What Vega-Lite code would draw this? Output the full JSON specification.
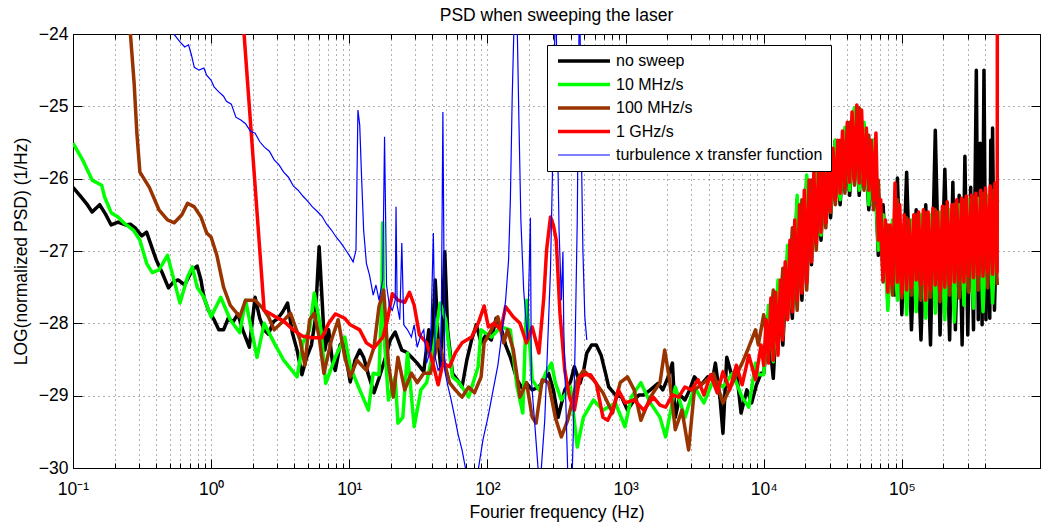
{
"$schema":"https://vega.github.io/schema/vega-lite/v6.json",
"width":967,"height":434,
"autosize":{"type":"none"},
"padding":{"left":73,"top":34,"right":1,"bottom":59},
"background":"white",
"title":{"text":"PSD when sweeping the laser","font":"Liberation Sans","fontSize":17.5,"fontWeight":"normal","color":"black","offset":-13,"baseline":"alphabetic","anchor":"middle"},
"config":{"view":{"stroke":"black","strokeWidth":1},
"axis":{"labelFont":"Liberation Sans","labelFontSize":17.5,"labelColor":"black","titleFont":"Liberation Sans","titleFontSize":17.5,"titleFontWeight":"normal","titleColor":"black","domainColor":"black","tickColor":"black","gridColor":"#3a3a3a","gridDash":[1,4],"gridWidth":0.8,"labelOverlap":false,"labelFlush":false}},
"datasets":{
"k":[{"f":0.1,"y":-26.12},{"f":0.112,"y":-26.23},{"f":0.127,"y":-26.36},{"f":0.1375,"y":-26.46},{"f":0.156,"y":-26.36},{"f":0.172,"y":-26.49},{"f":0.189,"y":-26.64},{"f":0.2115,"y":-26.6},{"f":0.24,"y":-26.64},{"f":0.26,"y":-26.63},{"f":0.2815,"y":-26.68},{"f":0.315,"y":-26.79},{"f":0.341,"y":-26.74},{"f":0.369,"y":-26.93},{"f":0.4,"y":-27.12},{"f":0.44,"y":-27.29},{"f":0.491,"y":-27.51},{"f":0.532,"y":-27.43},{"f":0.576,"y":-27.4},{"f":0.644,"y":-27.47},{"f":0.731,"y":-27.26},{"f":0.792,"y":-27.21},{"f":0.844,"y":-27.4},{"f":0.886,"y":-27.64},{"f":0.957,"y":-27.82},{"f":1.05,"y":-27.95},{"f":1.136,"y":-28.09},{"f":1.23,"y":-28.09},{"f":1.33,"y":-27.93},{"f":1.443,"y":-27.98},{"f":1.563,"y":-27.87},{"f":1.692,"y":-28.09},{"f":1.89,"y":-28.33},{"f":2.08,"y":-27.64},{"f":2.25,"y":-27.93},{"f":2.42,"y":-28.09},{"f":2.6,"y":-28.15},{"f":2.815,"y":-27.98},{"f":3.048,"y":-27.93},{"f":3.3,"y":-27.84},{"f":3.574,"y":-27.72},{"f":3.87,"y":-28.13},{"f":4.19,"y":-28.37},{"f":4.537,"y":-28.71},{"f":4.913,"y":-28.47},{"f":5.32,"y":-28.3},{"f":5.67,"y":-27.95},{"f":6.05,"y":-26.94},{"f":6.34,"y":-27.64},{"f":6.65,"y":-28.37},{"f":7.09,"y":-28.09},{"f":7.55,"y":-28.53},{"f":7.918,"y":-28.65},{"f":8.574,"y":-28.3},{"f":9.284,"y":-28.23},{"f":9.77,"y":-28.62},{"f":10.16,"y":-28.81},{"f":11,"y":-28.51},{"f":11.9,"y":-28.37},{"f":12.7,"y":-28.47},{"f":13.75,"y":-28.71},{"f":15.1,"y":-28.96},{"f":16.4,"y":-28.76},{"f":18.3,"y":-28.47},{"f":19.8,"y":-28.23},{"f":21.5,"y":-28.12},{"f":24,"y":-28.37},{"f":26,"y":-28.4},{"f":28.6,"y":-28.48},{"f":31,"y":-28.55},{"f":34.6,"y":-28.67},{"f":37.6,"y":-28.09},{"f":39.3,"y":-28.44},{"f":41.9,"y":-27.4},{"f":44,"y":-28.23},{"f":46.1,"y":-28.65},{"f":49.1,"y":-27.01},{"f":51.5,"y":-28.09},{"f":55.8,"y":-28.69},{"f":60.5,"y":-28.78},{"f":65.5,"y":-28.88},{"f":70.9,"y":-28.51},{"f":76.8,"y":-28.23},{"f":83.1,"y":-28.02},{"f":90,"y":-28.27},{"f":97.7,"y":-28.16},{"f":106.6,"y":-28.23},{"f":115.5,"y":-27.93},{"f":125,"y":-28.05},{"f":135.4,"y":-28.3},{"f":146.6,"y":-28.47},{"f":163.8,"y":-28.78},{"f":177.4,"y":-28.89},{"f":192,"y":-28.83},{"f":211,"y":-28.92},{"f":236,"y":-28.88},{"f":256,"y":-28.78},{"f":277,"y":-28.69},{"f":300,"y":-28.92},{"f":325,"y":-29.3},{"f":363,"y":-28.92},{"f":399,"y":-28.81},{"f":426,"y":-28.6},{"f":468,"y":-28.83},{"f":495,"y":-28.67},{"f":524,"y":-28.41},{"f":567,"y":-28.3},{"f":614,"y":-28.3},{"f":665,"y":-28.44},{"f":720,"y":-28.71},{"f":755,"y":-28.88},{"f":844,"y":-28.99},{"f":936,"y":-29.02},{"f":1032,"y":-29.2},{"f":1154,"y":-29.06},{"f":1250,"y":-28.99},{"f":1354,"y":-28.99},{"f":1512,"y":-28.92},{"f":1719,"y":-28.83},{"f":1860,"y":-28.92},{"f":2015,"y":-28.76},{"f":2183,"y":-28.55},{"f":2290,"y":-29.3},{"f":2480,"y":-28.99},{"f":2690,"y":-29.06},{"f":2910,"y":-28.92},{"f":3150,"y":-28.74},{"f":3516,"y":-28.85},{"f":3930,"y":-28.74},{"f":4260,"y":-28.78},{"f":4470,"y":-28.55},{"f":4840,"y":-29.06},{"f":5070,"y":-29.52},{"f":5400,"y":-28.47},{"f":5850,"y":-28.71},{"f":6340,"y":-28.65},{"f":6860,"y":-29.24},{"f":7550,"y":-28.92},{"f":8180,"y":-29.1},{"f":8860,"y":-28.85},{"f":9570,"y":-28.69},{"f":10000,"y":-28.69},{"f":10830,"y":-28.09},{"f":11730,"y":-28.76},{"f":12700,"y":-27.54},{"f":13750,"y":-28.3},{"f":14890,"y":-27.06},{"f":16120,"y":-27.93},{"f":17460,"y":-26.29},{"f":18900,"y":-27.68},{"f":20470,"y":-26.02},{"f":22170,"y":-27.19},{"f":24000,"y":-25.63},{"f":25990,"y":-26.85},{"f":28150,"y":-25.6},{"f":30480,"y":-26.54},{"f":33000,"y":-25.47},{"f":35740,"y":-26.36},{"f":38700,"y":-25.33},{"f":41900,"y":-26.23},{"f":45370,"y":-25.05},{"f":49130,"y":-26.23},{"f":53200,"y":-25.26},{"f":57600,"y":-26.43},{"f":62370,"y":-25.47},{"f":67540,"y":-27.06},{"f":73130,"y":-26.36},{"f":79180,"y":-27.68},{"f":85740,"y":-26.85},{"f":89220,"y":-27.61},{"f":92840,"y":-25.99},{"f":100000,"y":-27.88},{"f":108300,"y":-25.91},{"f":117300,"y":-28.09},{"f":127000,"y":-26.43},{"f":137500,"y":-28.23},{"f":148900,"y":-26.36},{"f":161200,"y":-28.3},{"f":174600,"y":-25.33},{"f":189000,"y":-28.16},{"f":204700,"y":-25.87},{"f":221700,"y":-28.23},{"f":234000,"y":-26.05},{"f":244000,"y":-28.09},{"f":259900,"y":-26.23},{"f":273000,"y":-28.3},{"f":286000,"y":-25.69},{"f":300000,"y":-28.16},{"f":315000,"y":-26.12},{"f":330000,"y":-28.09},{"f":346000,"y":-24.5},{"f":357400,"y":-27.95},{"f":369000,"y":-25.51},{"f":381000,"y":-28.02},{"f":393000,"y":-24.5},{"f":406000,"y":-27.95},{"f":419000,"y":-26.29},{"f":433000,"y":-27.93},{"f":440000,"y":-25.47},{"f":447000,"y":-27.68},{"f":453700,"y":-25.3},{"f":468000,"y":-27.82},{"f":491300,"y":-26.29}],
"g":[{"f":0.1,"y":-25.51},{"f":0.1173,"y":-25.74},{"f":0.1375,"y":-26.02},{"f":0.1612,"y":-26.09},{"f":0.169,"y":-26.25},{"f":0.189,"y":-26.47},{"f":0.2115,"y":-26.53},{"f":0.233,"y":-26.61},{"f":0.273,"y":-26.71},{"f":0.305,"y":-26.85},{"f":0.341,"y":-27.17},{"f":0.375,"y":-27.3},{"f":0.419,"y":-27.26},{"f":0.483,"y":-27.06},{"f":0.595,"y":-27.72},{"f":0.675,"y":-27.36},{"f":0.731,"y":-27.22},{"f":0.792,"y":-27.5},{"f":0.886,"y":-27.64},{"f":1,"y":-27.91},{"f":1.173,"y":-27.64},{"f":1.375,"y":-27.95},{"f":1.612,"y":-28.13},{"f":1.775,"y":-27.68},{"f":2.148,"y":-28.47},{"f":2.42,"y":-28},{"f":2.86,"y":-28.27},{"f":3.35,"y":-28.51},{"f":4.19,"y":-28.74},{"f":4.61,"y":-28.27},{"f":5.16,"y":-28.09},{"f":5.58,"y":-27.58},{"f":6.24,"y":-28.09},{"f":6.75,"y":-28.83},{"f":7.92,"y":-28.47},{"f":9.28,"y":-28.19},{"f":10.16,"y":-28.6},{"f":11.9,"y":-28.92},{"f":13.75,"y":-29.2},{"f":14.89,"y":-28.69},{"f":16.4,"y":-28.71},{"f":17.2,"y":-27.68},{"f":17.46,"y":-26.61},{"f":17.75,"y":-28.09},{"f":19.2,"y":-29.06},{"f":21.5,"y":-28.74},{"f":22.5,"y":-29.38},{"f":24.4,"y":-29.3},{"f":26.4,"y":-28.41},{"f":29.5,"y":-29.43},{"f":33,"y":-28.92},{"f":36.3,"y":-28.82},{"f":40.6,"y":-28.37},{"f":45.4,"y":-27.72},{"f":49.9,"y":-27.95},{"f":55.8,"y":-28.74},{"f":62.4,"y":-28.82},{"f":73.1,"y":-29.02},{"f":85.7,"y":-28.6},{"f":90,"y":-28.09},{"f":106.6,"y":-28.19},{"f":125,"y":-28.05},{"f":146.6,"y":-28.09},{"f":163.8,"y":-28.88},{"f":180.3,"y":-29.24},{"f":192,"y":-27.68},{"f":211,"y":-28.78},{"f":236,"y":-28.92},{"f":264,"y":-28.69},{"f":291,"y":-28.55},{"f":310,"y":-28.82},{"f":343,"y":-29.06},{"f":399,"y":-28.88},{"f":447,"y":-29.71},{"f":495,"y":-29.3},{"f":585,"y":-29.06},{"f":686,"y":-29.2},{"f":844,"y":-29.1},{"f":990,"y":-29.43},{"f":1100,"y":-29.02},{"f":1291,"y":-28.82},{"f":1512,"y":-29.1},{"f":1775,"y":-29.3},{"f":1950,"y":-29.57},{"f":2290,"y":-28.88},{"f":2690,"y":-29.3},{"f":3150,"y":-28.88},{"f":3690,"y":-29.1},{"f":4330,"y":-28.78},{"f":5070,"y":-28.88},{"f":5950,"y":-28.69},{"f":6980,"y":-29.02},{"f":7800,"y":-29.16},{"f":8720,"y":-28.55},{"f":9140,"y":-28.71},{"f":10000,"y":-28.71},{"f":10830,"y":-27.75},{"f":11730,"y":-28.53},{"f":12700,"y":-27.4},{"f":13750,"y":-28.16},{"f":14890,"y":-26.92},{"f":16120,"y":-27.82},{"f":17460,"y":-26.23},{"f":18900,"y":-27.54},{"f":20470,"y":-25.95},{"f":22170,"y":-27.06},{"f":24000,"y":-25.74},{"f":25990,"y":-26.78},{"f":28150,"y":-25.67},{"f":30480,"y":-26.46},{"f":33000,"y":-25.47},{"f":35740,"y":-26.29},{"f":38700,"y":-25.29},{"f":41900,"y":-26.16},{"f":45370,"y":-25.02},{"f":49130,"y":-26.16},{"f":53200,"y":-25.22},{"f":57600,"y":-26.36},{"f":62370,"y":-25.47},{"f":67540,"y":-26.99},{"f":73130,"y":-26.5},{"f":79180,"y":-27.82},{"f":85740,"y":-26.57},{"f":92840,"y":-27.68},{"f":100000,"y":-26.64},{"f":108300,"y":-27.88},{"f":117300,"y":-26.57},{"f":127000,"y":-27.84},{"f":137500,"y":-26.5},{"f":148900,"y":-27.93},{"f":161200,"y":-26.5},{"f":174600,"y":-27.86},{"f":189000,"y":-26.46},{"f":204700,"y":-27.95},{"f":221700,"y":-26.43},{"f":240000,"y":-27.98},{"f":259900,"y":-26.36},{"f":281500,"y":-27.75},{"f":304800,"y":-26.29},{"f":330000,"y":-27.79},{"f":357400,"y":-26.27},{"f":387000,"y":-27.84},{"f":419000,"y":-26.23},{"f":453700,"y":-27.72},{"f":491300,"y":-26.16}],
"b":[{"f":0.256,"y":-23.81},{"f":0.277,"y":-24.68},{"f":0.29,"y":-25.37},{"f":0.305,"y":-25.91},{"f":0.357,"y":-26.12},{"f":0.419,"y":-26.43},{"f":0.483,"y":-26.57},{"f":0.541,"y":-26.61},{"f":0.614,"y":-26.5},{"f":0.675,"y":-26.34},{"f":0.755,"y":-26.39},{"f":0.844,"y":-26.53},{"f":0.928,"y":-26.75},{"f":1,"y":-26.81},{"f":1.1,"y":-27.06},{"f":1.23,"y":-27.5},{"f":1.375,"y":-27.75},{"f":1.612,"y":-27.91},{"f":1.775,"y":-27.68},{"f":2.08,"y":-27.68},{"f":2.36,"y":-27.79},{"f":2.6,"y":-27.91},{"f":2.86,"y":-28.09},{"f":3.2,"y":-28},{"f":3.75,"y":-27.86},{"f":4.4,"y":-28.23},{"f":4.77,"y":-28.58},{"f":5.16,"y":-27.95},{"f":5.58,"y":-27.86},{"f":6.05,"y":-28.19},{"f":6.55,"y":-28.69},{"f":7.43,"y":-28.23},{"f":8.31,"y":-27.95},{"f":9.28,"y":-28.47},{"f":10.16,"y":-28.74},{"f":11.36,"y":-28.51},{"f":13.3,"y":-28.65},{"f":15.1,"y":-28.33},{"f":16.4,"y":-27.77},{"f":17.75,"y":-27.54},{"f":19.2,"y":-28.55},{"f":20.8,"y":-29.02},{"f":22.5,"y":-28.47},{"f":25.2,"y":-28.92},{"f":28.15,"y":-28.69},{"f":31,"y":-28.82},{"f":34.6,"y":-28.69},{"f":38.7,"y":-28.69},{"f":44,"y":-28.23},{"f":47.7,"y":-28.47},{"f":53.2,"y":-28.82},{"f":58.5,"y":-28.92},{"f":65.5,"y":-29.02},{"f":73.1,"y":-28.88},{"f":80.6,"y":-28.96},{"f":90,"y":-28.74},{"f":94.6,"y":-28.27},{"f":106.6,"y":-28.09},{"f":119,"y":-27.91},{"f":131,"y":-28.27},{"f":140,"y":-28.09},{"f":154,"y":-28.37},{"f":164,"y":-28.74},{"f":172,"y":-29.02},{"f":192,"y":-28.82},{"f":211,"y":-29.3},{"f":225,"y":-29.38},{"f":249,"y":-28.78},{"f":277,"y":-28.82},{"f":310,"y":-29.3},{"f":343,"y":-29.57},{"f":381,"y":-29.34},{"f":447,"y":-28.78},{"f":495,"y":-28.65},{"f":585,"y":-28.78},{"f":686,"y":-28.96},{"f":805,"y":-29.24},{"f":914,"y":-28.82},{"f":1032,"y":-28.74},{"f":1154,"y":-28.92},{"f":1291,"y":-29.34},{"f":1512,"y":-29.02},{"f":1775,"y":-28.82},{"f":1920,"y":-28.37},{"f":2080,"y":-28.78},{"f":2290,"y":-29.47},{"f":2560,"y":-29.2},{"f":2860,"y":-29.75},{"f":3150,"y":-28.92},{"f":3690,"y":-28.82},{"f":4330,"y":-28.69},{"f":5070,"y":-29.1},{"f":5950,"y":-28.82},{"f":6980,"y":-28.55},{"f":7800,"y":-28.33},{"f":8720,"y":-28.09},{"f":9140,"y":-28.3},{"f":10000,"y":-27.88},{"f":10830,"y":-28.37},{"f":11730,"y":-27.54},{"f":12700,"y":-28.3},{"f":13750,"y":-27.24},{"f":14890,"y":-27.93},{"f":16120,"y":-26.68},{"f":17460,"y":-27.82},{"f":18900,"y":-26.29},{"f":20470,"y":-27.54},{"f":22170,"y":-26.02},{"f":24000,"y":-26.99},{"f":25990,"y":-25.81},{"f":28150,"y":-26.68},{"f":30480,"y":-25.67},{"f":33000,"y":-26.36},{"f":35740,"y":-25.47},{"f":38700,"y":-26.2},{"f":41900,"y":-25.22},{"f":45370,"y":-26.09},{"f":49130,"y":-25.02},{"f":53200,"y":-26.16},{"f":57600,"y":-25.4},{"f":62370,"y":-26.43},{"f":67540,"y":-26.02},{"f":73130,"y":-27.43},{"f":79180,"y":-26.64},{"f":85740,"y":-27.61},{"f":92840,"y":-26.29},{"f":100000,"y":-27.65},{"f":108300,"y":-26.54},{"f":117300,"y":-27.61},{"f":127000,"y":-26.5},{"f":137500,"y":-27.68},{"f":148900,"y":-26.47},{"f":161200,"y":-27.64},{"f":174600,"y":-26.43},{"f":189000,"y":-27.7},{"f":204700,"y":-26.39},{"f":221700,"y":-27.61},{"f":240000,"y":-26.35},{"f":259900,"y":-27.65},{"f":281500,"y":-26.29},{"f":304800,"y":-27.57},{"f":330000,"y":-26.25},{"f":357400,"y":-27.54},{"f":387000,"y":-26.2},{"f":419000,"y":-27.51},{"f":453700,"y":-26.16},{"f":491300,"y":-27.47}],
"r":[{"f":1.692,"y":-23.74},{"f":2.42,"y":-27.82},{"f":2.86,"y":-27.9},{"f":3.35,"y":-27.97},{"f":3.93,"y":-28.09},{"f":4.61,"y":-28.18},{"f":5.41,"y":-28.2},{"f":6.34,"y":-28.2},{"f":7.09,"y":-28},{"f":7.92,"y":-27.87},{"f":9.28,"y":-27.93},{"f":10.16,"y":-28.02},{"f":11.9,"y":-28.09},{"f":13.3,"y":-28.27},{"f":15.1,"y":-28.34},{"f":17.5,"y":-28.19},{"f":18.9,"y":-27.95},{"f":20.5,"y":-27.59},{"f":22.5,"y":-27.68},{"f":25.2,"y":-27.71},{"f":27.3,"y":-27.57},{"f":29.5,"y":-27.75},{"f":32.2,"y":-28.16},{"f":36.3,"y":-28.27},{"f":40.6,"y":-28.58},{"f":44,"y":-28.85},{"f":47.6,"y":-28.55},{"f":53.2,"y":-28.6},{"f":58.5,"y":-28.41},{"f":65.5,"y":-28.27},{"f":76.8,"y":-28.19},{"f":85.7,"y":-28},{"f":94.6,"y":-27.76},{"f":101.6,"y":-28.05},{"f":111.8,"y":-28},{"f":125,"y":-28.09},{"f":135.4,"y":-27.77},{"f":153.6,"y":-27.91},{"f":172,"y":-28},{"f":192,"y":-28.27},{"f":211,"y":-28.05},{"f":236,"y":-28.41},{"f":256,"y":-27.64},{"f":268,"y":-26.99},{"f":286,"y":-26.53},{"f":300,"y":-26.64},{"f":315,"y":-26.85},{"f":335,"y":-27.86},{"f":363,"y":-28.65},{"f":393,"y":-29.02},{"f":426,"y":-29.2},{"f":468,"y":-28.74},{"f":507,"y":-28.71},{"f":558,"y":-28.71},{"f":614,"y":-28.83},{"f":686,"y":-29.3},{"f":743,"y":-29.34},{"f":805,"y":-29.2},{"f":886,"y":-28.92},{"f":993,"y":-29.1},{"f":1154,"y":-29.06},{"f":1354,"y":-29.2},{"f":1587,"y":-29.02},{"f":1774,"y":-29.13},{"f":1950,"y":-29.16},{"f":2183,"y":-28.99},{"f":2420,"y":-29.02},{"f":2690,"y":-28.88},{"f":3000,"y":-28.92},{"f":3350,"y":-28.78},{"f":3690,"y":-28.99},{"f":4125,"y":-28.71},{"f":4610,"y":-28.96},{"f":5070,"y":-28.67},{"f":5670,"y":-28.92},{"f":6340,"y":-28.58},{"f":6980,"y":-28.85},{"f":7800,"y":-28.44},{"f":8720,"y":-28.78},{"f":9570,"y":-28.3},{"f":10000,"y":-28.58},{"f":10410,"y":-27.95},{"f":10830,"y":-28.55},{"f":11270,"y":-27.65},{"f":11730,"y":-28.51},{"f":12200,"y":-27.57},{"f":12700,"y":-28.44},{"f":13210,"y":-27.4},{"f":13750,"y":-28.23},{"f":14310,"y":-27.15},{"f":14890,"y":-27.95},{"f":15490,"y":-26.85},{"f":16120,"y":-27.84},{"f":16780,"y":-26.57},{"f":17460,"y":-27.68},{"f":18170,"y":-26.36},{"f":18900,"y":-27.58},{"f":19670,"y":-26.16},{"f":20470,"y":-27.44},{"f":21300,"y":-26.02},{"f":22170,"y":-27.15},{"f":23070,"y":-25.91},{"f":24000,"y":-26.89},{"f":24980,"y":-25.81},{"f":25990,"y":-26.74},{"f":27050,"y":-25.77},{"f":28150,"y":-26.61},{"f":29290,"y":-25.69},{"f":30480,"y":-26.46},{"f":31720,"y":-25.58},{"f":33000,"y":-26.29},{"f":34340,"y":-25.47},{"f":35740,"y":-26.2},{"f":37190,"y":-25.34},{"f":38700,"y":-26.12},{"f":40270,"y":-25.22},{"f":41900,"y":-26.05},{"f":43600,"y":-25.08},{"f":45370,"y":-26.02},{"f":47210,"y":-24.98},{"f":49130,"y":-26.06},{"f":51120,"y":-25.05},{"f":53200,"y":-26.09},{"f":55360,"y":-25.3},{"f":57600,"y":-26.16},{"f":59940,"y":-25.47},{"f":62370,"y":-26.29},{"f":64910,"y":-25.37},{"f":67540,"y":-26.85},{"f":70280,"y":-26.29},{"f":73130,"y":-27.4},{"f":76100,"y":-26.57},{"f":79180,"y":-27.57},{"f":82400,"y":-26.64},{"f":85740,"y":-27.47},{"f":89220,"y":-26.06},{"f":92840,"y":-27.43},{"f":96610,"y":-26.36},{"f":100000,"y":-27.58},{"f":104100,"y":-26.5},{"f":108300,"y":-27.54},{"f":112700,"y":-26.57},{"f":117300,"y":-27.5},{"f":122000,"y":-26.5},{"f":127000,"y":-27.4},{"f":132100,"y":-26.46},{"f":137500,"y":-27.46},{"f":143100,"y":-26.43},{"f":148900,"y":-27.68},{"f":154900,"y":-26.46},{"f":161200,"y":-27.54},{"f":167800,"y":-26.41},{"f":174600,"y":-27.47},{"f":181700,"y":-26.46},{"f":189000,"y":-27.54},{"f":196700,"y":-26.38},{"f":204700,"y":-27.5},{"f":213000,"y":-26.32},{"f":221700,"y":-27.46},{"f":230700,"y":-26.36},{"f":240000,"y":-27.43},{"f":249800,"y":-26.29},{"f":259900,"y":-27.4},{"f":270500,"y":-26.27},{"f":281500,"y":-27.43},{"f":292900,"y":-26.24},{"f":304800,"y":-27.35},{"f":317200,"y":-26.23},{"f":330000,"y":-27.37},{"f":343400,"y":-26.2},{"f":357400,"y":-27.32},{"f":371900,"y":-26.16},{"f":387000,"y":-27.35},{"f":402700,"y":-26.13},{"f":419000,"y":-27.29},{"f":436000,"y":-26.1},{"f":453700,"y":-27.32},{"f":472100,"y":-26.06},{"f":490000,"y":-27.29},{"f":491300,"y":-23}],
"t":[{"f":0.507,"y":-23.88},{"f":0.541,"y":-24.01},{"f":0.595,"y":-24.11},{"f":0.644,"y":-24.18},{"f":0.686,"y":-24.15},{"f":0.72,"y":-24.29},{"f":0.755,"y":-24.46},{"f":0.818,"y":-24.5},{"f":0.886,"y":-24.47},{"f":0.928,"y":-24.57},{"f":1,"y":-24.64},{"f":1.05,"y":-24.73},{"f":1.136,"y":-24.8},{"f":1.23,"y":-24.86},{"f":1.29,"y":-24.93},{"f":1.4,"y":-24.97},{"f":1.51,"y":-25.15},{"f":1.64,"y":-25.19},{"f":1.775,"y":-25.24},{"f":1.92,"y":-25.34},{"f":2.08,"y":-25.37},{"f":2.25,"y":-25.49},{"f":2.42,"y":-25.56},{"f":2.64,"y":-25.62},{"f":2.86,"y":-25.74},{"f":3.1,"y":-25.81},{"f":3.35,"y":-25.91},{"f":3.63,"y":-25.98},{"f":3.93,"y":-26.1},{"f":4.26,"y":-26.16},{"f":4.61,"y":-26.24},{"f":4.99,"y":-26.31},{"f":5.41,"y":-26.39},{"f":5.85,"y":-26.45},{"f":6.34,"y":-26.52},{"f":6.86,"y":-26.63},{"f":7.43,"y":-26.71},{"f":8.05,"y":-26.81},{"f":8.72,"y":-26.89},{"f":9.45,"y":-26.99},{"f":10,"y":-27.06},{"f":10.66,"y":-27.15},{"f":11.18,"y":-26.99},{"f":11.55,"y":-25.05},{"f":11.9,"y":-25.26},{"f":12.3,"y":-26.02},{"f":12.7,"y":-26.71},{"f":13.3,"y":-27.17},{"f":14,"y":-27.33},{"f":14.9,"y":-27.61},{"f":15.6,"y":-27.47},{"f":16.4,"y":-27.68},{"f":17.46,"y":-27.4},{"f":18,"y":-25.42},{"f":18.6,"y":-27.47},{"f":19.5,"y":-27.75},{"f":20.5,"y":-27.82},{"f":21.5,"y":-27.68},{"f":21.8,"y":-26.39},{"f":22.2,"y":-27.75},{"f":23.2,"y":-27.95},{"f":24,"y":-26.89},{"f":24.8,"y":-28.02},{"f":26.4,"y":-28.09},{"f":28.15,"y":-28.19},{"f":29.5,"y":-28.02},{"f":31,"y":-28.33},{"f":33,"y":-28.16},{"f":34.6,"y":-28.09},{"f":36.3,"y":-28.55},{"f":38.7,"y":-28.37},{"f":40.6,"y":-26.75},{"f":41.9,"y":-28.47},{"f":44,"y":-28.65},{"f":46.1,"y":-28.58},{"f":47.6,"y":-25.08},{"f":49.1,"y":-28.65},{"f":51.5,"y":-28.85},{"f":54.1,"y":-29.02},{"f":57.6,"y":-29.27},{"f":61.4,"y":-29.54},{"f":65.5,"y":-29.75},{"f":69.8,"y":-30.03},{"f":72,"y":-30.44},{"f":81.8,"y":-30.44},{"f":85.7,"y":-30.03},{"f":92.8,"y":-29.61},{"f":101.6,"y":-29.27},{"f":110,"y":-28.92},{"f":119,"y":-28.58},{"f":127,"y":-28.16},{"f":135.4,"y":-27.68},{"f":142.3,"y":-27.12},{"f":146.6,"y":-26.29},{"f":151,"y":-24.91},{"f":156,"y":-23.81},{"f":164,"y":-23.81},{"f":169,"y":-25.19},{"f":174.6,"y":-26.57},{"f":183,"y":-27.54},{"f":195,"y":-28.23},{"f":204.7,"y":-26.54},{"f":208,"y":-28.78},{"f":221.7,"y":-29.47},{"f":236,"y":-30.17},{"f":242,"y":-30.17},{"f":260,"y":-29.34},{"f":272,"y":-28.37},{"f":286,"y":-27.26},{"f":295,"y":-26.02},{"f":304.8,"y":-24.36},{"f":310,"y":-23.67},{"f":315,"y":-23.81},{"f":320,"y":-25.19},{"f":330,"y":-26.71},{"f":343,"y":-27.68},{"f":352,"y":-27.01},{"f":357,"y":-28.09},{"f":369,"y":-29.06},{"f":381,"y":-30.03},{"f":387,"y":-30.44},{"f":406,"y":-30.44},{"f":419,"y":-29.47},{"f":432,"y":-28.23},{"f":447,"y":-26.57},{"f":453.7,"y":-25.19},{"f":461,"y":-23.81},{"f":468,"y":-23.81},{"f":475,"y":-25.19},{"f":491,"y":-26.99},{"f":507,"y":-27.91},{"f":524,"y":-28.23}]
},
"layer":[
{"data":{"name":"k"},"mark":{"type":"line","clip":true,"strokeWidth":3.5,"strokeJoin":"round"},
"encoding":{
"x":{"field":"f","type":"quantitative","scale":{"type":"log","domain":[0.1,491300]},
"axis":{"orient":"bottom","values":[0.1,1,10,100,1000,10000,100000],"labelExpr":"datum.value == 0.1 ? '10⁻¹' : datum.value == 1 ? '10⁰' : datum.value == 10 ? '10¹' : datum.value == 100 ? '10²' : datum.value == 1000 ? '10³' : datum.value == 10000 ? '10⁴' : '10⁵'","tickSize":-9,"labelPadding":21,"grid":false,"title":"Fourier frequency (Hz)","titlePadding":6}},
"y":{"field":"y","type":"quantitative","scale":{"domain":[-30,-24]},
"axis":{"orient":"left","values":[-30,-29,-28,-27,-26,-25,-24],"format":"d","tickSize":-9,"labelPadding":14,"grid":true,"title":"LOG(normalized PSD) (1/Hz)","titlePadding":8}},
"color":{"datum":"no sweep","type":"nominal","scale":{"domain":["no sweep","10 MHz/s","100 MHz/s","1 GHz/s","turbulence x transfer function"],"range":["#000000","#00ff00","#993300","#ff0000","#0000ff"]},
"legend":{"orient":"none","legendX":474,"legendY":11,"title":null,"symbolType":"stroke","symbolSize":2704,"symbolStrokeWidth":3.5,"symbolOffset":21,"labelFontSize":16,"labelFont":"Liberation Sans","labelColor":"black","labelOffset":24,"labelLimit":400,"strokeColor":"black","fillColor":"white","padding":8,"rowPadding":7.5,
"encode":{"symbols":{"update":{"strokeWidth":{"signal":"datum.value === 'turbulence x transfer function' ? 1 : 3.5"}}}}}}}},
{"data":{"name":"g"},"mark":{"type":"line","clip":true,"strokeWidth":3.5,"strokeJoin":"round"},
"encoding":{
"x":{"field":"f","type":"quantitative","axis":{"orient":"bottom","values":[0.1,0.2,0.3,0.4,0.5,0.6,0.7,0.8,0.9,1,2,3,4,5,6,7,8,9,10,20,30,40,50,60,70,80,90,100,200,300,400,500,600,700,800,900,1000,2000,3000,4000,5000,6000,7000,8000,9000,10000,20000,30000,40000,50000,60000,70000,80000,90000,100000,200000,300000,400000],"labels":false,"domain":false,"tickSize":-5,"grid":true,"title":null}},
"y":{"field":"y","type":"quantitative","axis":{"orient":"right","values":[-30,-29,-28,-27,-26,-25,-24],"labels":false,"tickSize":-9,"grid":false,"title":null}},
"color":{"datum":"10 MHz/s","type":"nominal"}}},
{"data":{"name":"b"},"mark":{"type":"line","clip":true,"strokeWidth":3.5,"strokeJoin":"round"},
"encoding":{
"x":{"field":"f","type":"quantitative","axis":{"orient":"top","values":[0.1,1,10,100,1000,10000,100000],"labels":false,"tickSize":-9,"grid":false,"title":null}},
"y":{"field":"y","type":"quantitative","axis":null},
"color":{"datum":"100 MHz/s","type":"nominal"}}},
{"data":{"name":"r"},"mark":{"type":"line","clip":true,"strokeWidth":3.5,"strokeJoin":"round"},
"encoding":{
"x":{"field":"f","type":"quantitative","axis":{"orient":"top","values":[0.2,0.3,0.4,0.5,0.6,0.7,0.8,0.9,2,3,4,5,6,7,8,9,20,30,40,50,60,70,80,90,200,300,400,500,600,700,800,900,2000,3000,4000,5000,6000,7000,8000,9000,20000,30000,40000,50000,60000,70000,80000,90000,200000,300000,400000],"labels":false,"domain":false,"tickSize":-5,"grid":false,"title":null}},
"y":{"field":"y","type":"quantitative","axis":null},
"color":{"datum":"1 GHz/s","type":"nominal"}}},
{"data":{"name":"t"},"mark":{"type":"line","clip":true,"strokeWidth":1.2},
"encoding":{
"x":{"field":"f","type":"quantitative","axis":null},
"y":{"field":"y","type":"quantitative","axis":null},
"color":{"datum":"turbulence x transfer function","type":"nominal"}}}
],
"resolve":{"axis":{"x":"independent","y":"independent"}}
}
